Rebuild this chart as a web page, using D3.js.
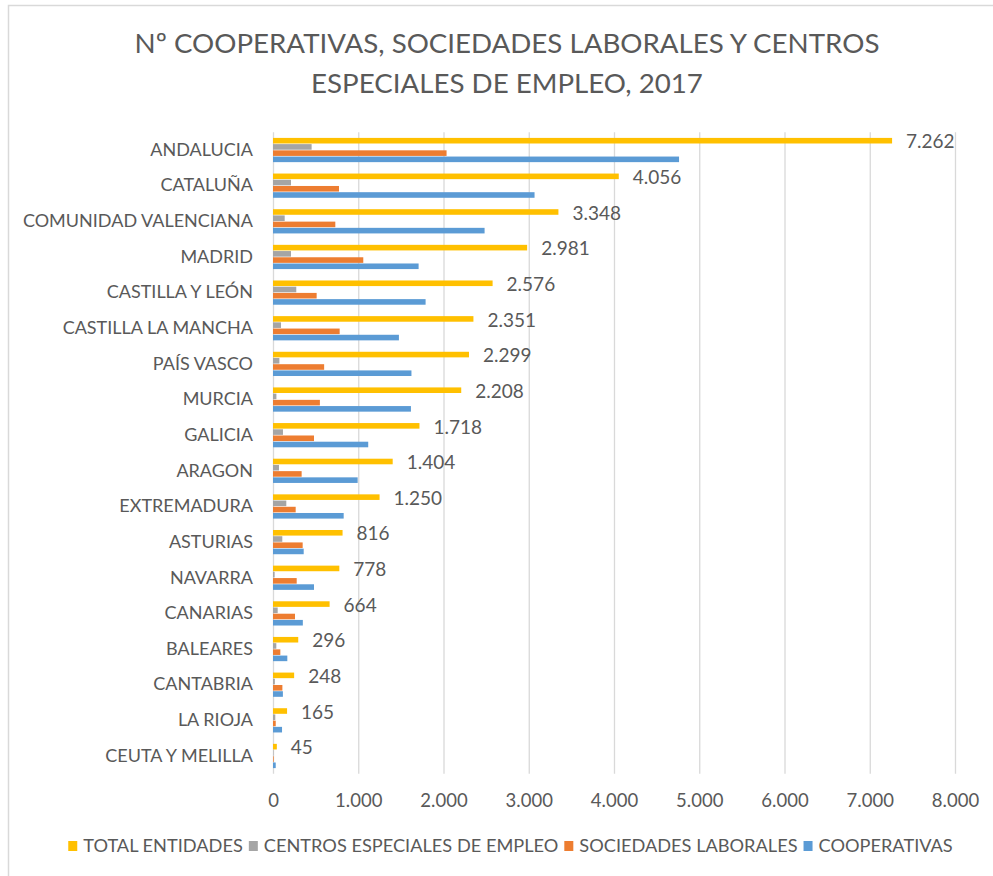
<!DOCTYPE html>
<html>
<head>
<meta charset="utf-8">
<script src="https://cdn.jsdelivr.net/npm/d3@7/dist/d3.min.js"></script>
<style>
  html, body { margin: 0; padding: 0; background: #fff; }
  svg { display: block; }
  text { font-family: Lato, "Open Sans", sans-serif; fill: #595959; }
</style>
</head>
<body>
<svg id="chart" width="993" height="876"></svg>
<script>
const titleLines = ["Nº COOPERATIVAS, SOCIEDADES LABORALES Y CENTROS", "ESPECIALES DE EMPLEO, 2017"];
const categories = ["ANDALUCIA","CATALUÑA","COMUNIDAD VALENCIANA","MADRID","CASTILLA Y LEÓN","CASTILLA LA MANCHA","PAÍS VASCO","MURCIA","GALICIA","ARAGON","EXTREMADURA","ASTURIAS","NAVARRA","CANARIAS","BALEARES","CANTABRIA","LA RIOJA","CEUTA Y MELILLA"];
const seriesNames = ["TOTAL ENTIDADES","CENTROS ESPECIALES DE EMPLEO","SOCIEDADES LABORALES","COOPERATIVAS"];
const totalEntidades = [7262,4056,3348,2981,2576,2351,2299,2208,1718,1404,1250,816,778,664,296,248,165,45];
const centrosEspeciales = [453,211,137,211,273,94,75,40,117,70,156,109,19,55,39,22,27,5];
const sociedadesLaborales = [2036,774,731,1059,512,782,600,550,481,336,266,348,278,258,86,110,32,8];
const cooperativas = [4763,3068,2482,1708,1790,1477,1624,1618,1117,993,829,360,481,350,168,116,106,32];
const xTicks = [0,1000,2000,3000,4000,5000,6000,7000,8000];
const colors = ["#FFC000","#A5A5A5","#ED7D31","#5B9BD5"];

const seriesValues = [totalEntidades, centrosEspeciales, sociedadesLaborales, cooperativas];
const rows = categories.map((c, i) => ({cat: c, values: seriesValues.map(s => s[i])}));

const locale = d3.formatLocale({decimal: ",", thousands: ".", grouping: [3], currency: ["", " €"]});
const fmt = locale.format(",d");

const svg = d3.select("#chart");

// chart border
svg.append("rect").attr("x", 8.5).attr("y", 5.5).attr("width", 1000).attr("height", 900)
  .attr("fill", "none").attr("stroke", "#D9D9D9").attr("stroke-width", 1.5);

// title
svg.append("g").selectAll("text").data(titleLines).join("text")
  .attr("x", 507).attr("y", (d, i) => 53 + i * 40)
  .attr("text-anchor", "middle")
  .style("font-size", "27.7px")
  .text(d => d);

const pLeft = 273, pRight = 955, pTop = 132.2, pBottom = 773.8;
const x = d3.scaleLinear().domain([0, 8000]).range([pLeft, pRight]);
const y0 = d3.scaleBand().domain(categories).range([pTop, pBottom]).paddingInner(0.32).paddingOuter(0.16);
const y1 = d3.scaleBand().domain(d3.range(seriesNames.length)).range([0, y0.bandwidth()]).paddingInner(0.1);

// gridlines
const grid = svg.append("g").attr("transform", `translate(0,${pBottom})`)
  .call(d3.axisBottom(x).tickValues(xTicks).tickSize(-(pBottom - pTop)).tickFormat(""));
grid.select(".domain").remove();
grid.selectAll("line").attr("stroke", "#D9D9D9").attr("stroke-width", 1.3);

// x tick labels
const xa = svg.append("g").attr("transform", `translate(0,${pBottom})`)
  .call(d3.axisBottom(x).tickValues(xTicks).tickSize(0).tickPadding(0).tickFormat(fmt));
xa.select(".domain").remove();
xa.selectAll("text").attr("y", 33).attr("dy", 0)
  .style("font-size", "18.5px").style("font-family", "Lato, sans-serif").attr("fill", "#595959");

// category labels
const ya = svg.append("g").attr("transform", `translate(${pLeft},0)`)
  .call(d3.axisLeft(y0).tickSize(0).tickPadding(20));
ya.select(".domain").remove();
ya.selectAll("text").style("font-size", "18px").style("font-family", "Lato, sans-serif").attr("fill", "#595959");

// bars
const groups = svg.append("g").selectAll("g").data(rows).join("g")
  .attr("transform", d => `translate(0,${y0(d.cat)})`);
groups.selectAll("rect").data(d => d.values.map((v, k) => ({k, v}))).join("rect")
  .attr("x", x(0))
  .attr("y", d => y1(d.k))
  .attr("width", d => x(d.v) - x(0))
  .attr("height", y1.bandwidth())
  .attr("fill", d => colors[d.k]);

// data labels for total
svg.append("g").selectAll("text").data(rows).join("text")
  .attr("x", d => x(d.values[0]) + 14)
  .attr("y", d => y0(d.cat) + y1(0) + y1.bandwidth() / 2 + 1)
  .attr("dy", "0.35em")
  .style("font-size", "19px")
  .text(d => fmt(d.values[0]));

// legend
const legend = svg.append("g").attr("transform", "translate(0,846)");
const items = legend.selectAll("g").data(seriesNames).join("g");
items.append("rect").attr("width", 9).attr("height", 10).attr("y", -5).attr("fill", (d, i) => colors[i]);
items.append("text").attr("x", 15).attr("dy", "0.35em").style("font-size", "18.2px").text(d => d);
let widths = [];
items.each(function() { widths.push(15 + d3.select(this).select("text").node().getComputedTextLength()); });
const gap = 6;
const totalW = d3.sum(widths) + gap * (widths.length - 1);
let cx = 510.5 - totalW / 2;
items.attr("transform", (d, i) => { const t = `translate(${cx},0)`; cx += widths[i] + gap; return t; });
</script>
</body>
</html>
